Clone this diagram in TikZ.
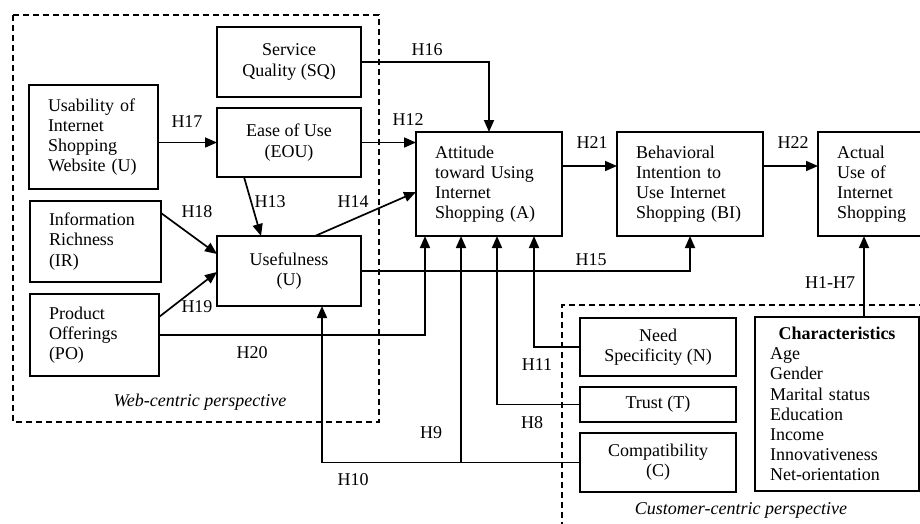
\documentclass[tikz,border=0pt]{standalone}
\usepackage{fontspec}
\setmainfont{Liberation Serif}
\usetikzlibrary{arrows.meta, calc}

\begin{document}
\begin{tikzpicture}[x=1pt, y=-1pt, font=\fontsize{18}{20.2}\selectfont,
	box/.style={draw, line width=1.3pt, inner sep=0pt, outer sep=0pt, align=center},
	lbox/.style={draw, line width=1.3pt, inner ysep=0pt, inner xsep=19pt, outer sep=0pt, align=left},
	link/.style={line width=1.7pt, -{Triangle[length=12pt, width=10pt]}},
	hlab/.style={inner sep=0pt},
	zone/.style={line width=1.3pt, dash pattern=on 6pt off 4pt}]
	\useasboundingbox (0,0) rectangle (920,523);

	\draw[zone]	(13,15) rectangle (379,422);
	\draw[zone]	(925,305) -- (562,305) -- (562,530);
	\node[hlab] (web) at (200,402) {\itshape Web-centric perspective};
	\node[hlab] (cust) at (741,510) {\itshape Customer-centric perspective};

	\node[box, minimum width=144pt, minimum height=70pt] (sq) at (289,62) {Service\\Quality (SQ)};
	\node[lbox, text width=91pt, minimum height=104pt] (usab) at (93.5,137) {Usability of\\Internet\\Shopping\\Website (U)};
	\node[box, minimum width=144pt, minimum height=69pt] (eou) at (289,142.5) {Ease of Use\\(EOU)};
	\node[lbox, text width=93pt, minimum height=81pt] (ir) at (95.5,241.5) {Information\\Richness\\(IR)};
	\node[box, minimum width=144pt, minimum height=70pt] (use) at (289,271) {Usefulness\\(U)};
	\node[lbox, text width=91pt, minimum height=82pt] (po) at (94.5,335) {Product\\Offerings\\(PO)};

	\node[lbox, text width=108pt, minimum height=104pt] (a) at (489,184) {Attitude\\toward Using\\Internet\\Shopping (A)};
	\node[lbox, text width=108pt, minimum height=104pt] (bi) at (690,184) {Behavioral\\Intention to\\Use Internet\\Shopping (BI)};
	\node[lbox, text width=65pt, minimum height=104pt] (act) at (869.5,184) {Actual\\Use of\\Internet\\Shopping};

	\node[box, minimum width=156pt, minimum height=58pt] (need) at (658,347) {Need\\Specificity (N)};
	\node[box, minimum width=156pt, minimum height=35pt] (trust) at (658,404.5) {Trust (T)};
	\node[box, minimum width=156pt, minimum height=59pt] (comp) at (658,462.5) {Compatibility\\(C)};
	\node[lbox, inner xsep=15pt, text width=134pt, minimum height=174pt] (chars) at (837,404) {\makebox[\linewidth]{\textbf{Characteristics}}\\Age\\Gender\\Marital status\\Education\\Income\\Innovativeness\\Net-orientation};

	\coordinate (c9) at ($(a.south)+(-28,0)$);
	\coordinate (c17) at ($(chars.north)+(27,0)$);

	\draw[link]	(sq.east) -| (a.north);
	\draw[link]	(eou.east) -- (eou.east -| a.west);
	\draw[link]	(usab.east |- eou.west) -- (eou.west);
	\draw[link]	($(eou.south)+(-45,0)$) -- ($(use.north)+(-28,0)$);
	\draw[link]	($(use.north)+(26,0)$) -- ($(a.west)+(0,8)$);
	\draw[link]	($(ir.north east)+(0,12)$) -- ($(use.west)+(0,-17)$);
	\draw[link]	($(po.east)+(0,-18)$) -- ($(use.west)+(0,1)$);
	\draw[link]	(po.east) -| ($(a.south west)+(9,0)$);
	\draw[link]	(use.east) -| (bi.south);
	\draw[link]	($(a.east)+(0,-18)$) -- ($(bi.west)+(0,-18)$);
	\draw[link]	($(bi.east)+(0,-18)$) -- ($(act.west)+(0,-18)$);
	\draw[link]	(need.west) -| ($(a.south)+(45,0)$);
	\draw[link]	(trust.west) -| ($(a.south)+(8,0)$);
	\draw[link]	(comp.west) -| ($(use.south)+(33,0)$);
	\draw[link]	(c9 |- comp.west) -- (c9);
	\draw[link]	(c17) -- (c17 |- act.south);

	\node[hlab] (h16) at (427,50) {H16};
	\node[hlab] (h12) at (408,120) {H12};
	\node[hlab] (h17) at (187,122) {H17};
	\node[hlab] (h13) at (270,202) {H13};
	\node[hlab] (h14) at (353,202) {H14};
	\node[hlab] (h18) at (197,212) {H18};
	\node[hlab] (h19) at (197,307) {H19};
	\node[hlab] (h20) at (252,353) {H20};
	\node[hlab] (h21) at (592,143) {H21};
	\node[hlab] (h22) at (793,143) {H22};
	\node[hlab] (h15) at (591,260) {H15};
	\node[hlab] (h11) at (537,365) {H11};
	\node[hlab] (h8) at (532,423) {H8};
	\node[hlab] (h9) at (431,433) {H9};
	\node[hlab] (h10) at (353,480) {H10};
	\node[hlab] (h17b) at (830,283) {H1-H7};
\end{tikzpicture}
\end{document}
